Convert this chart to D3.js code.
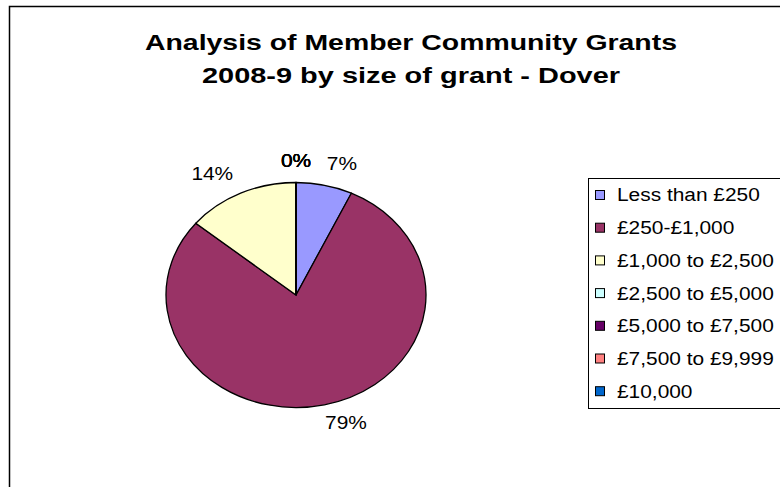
<!DOCTYPE html>
<html><head><meta charset="utf-8">
<script src="https://cdn.jsdelivr.net/npm/d3@7/dist/d3.min.js"></script>
<style>body{margin:0;background:#fff}svg{display:block}text{font-family:"Liberation Sans",Arial,sans-serif}</style>
</head><body><svg id="c" width="780" height="487"></svg>
<script>
const categories = ["Less than £250","£250-£1,000","£1,000 to £2,500","£2,500 to £5,000","£5,000 to £7,500","£7,500 to £9,999","£10,000"];
const values = [7,79,14,0,0,0,0];
const colors = ["#9999FF","#993366","#FFFFCC","#CCFFFF","#660066","#FF8080","#0066CC"];
const titleLines = ["Analysis of Member Community Grants","2008-9 by size of grant - Dover"];

const stretch = 1.16;
function widen(sel){ sel.each(function(){ const w=this.getComputedTextLength(); this.setAttribute("textLength", w*stretch); this.setAttribute("lengthAdjust","spacingAndGlyphs"); }); }

const svg = d3.select("#c");
// frame
svg.append("path").attr("d","M9.5,487 V6.5 H780").attr("fill","none").attr("stroke","#000").attr("stroke-width",1.5);

// title
svg.append("g").selectAll("text").data(titleLines).join("text")
  .attr("x",411).attr("y",(d,i)=>50+i*33).attr("text-anchor","middle")
  .attr("font-size",22).attr("font-weight","bold")
  .attr("textLength",(d,i)=>i===0?532:418).attr("lengthAdjust","spacingAndGlyphs")
  .text(d=>d);

// pie
const cx=296, cy=295, rx=130, ry=112.5;
const pie = d3.pie().sort(null).value(d=>d)(values);
const arc = d3.arc().innerRadius(0).outerRadius(rx);
const g = svg.append("g").attr("transform",`translate(${cx},${cy}) scale(1,${ry/rx})`);
g.selectAll("path").data(pie).join("path")
  .attr("d",arc).attr("fill",(d,i)=>colors[i])
  .attr("stroke","#000").attr("stroke-width",1.3).attr("vector-effect","non-scaling-stroke");

// labels
const lab = svg.append("g").attr("transform",`translate(${cx},${cy})`);
const lt = lab.selectAll("text").data(pie).join("text")
  .attr("text-anchor","middle").attr("font-size",18).attr("fill","#000")
  .text(d=>Math.round(d.data)+"%");
widen(lt);
lt.each(function(d){
  const a=(d.startAngle+d.endAngle)/2, s=Math.sin(a), c=Math.cos(a);
  const w=this.getComputedTextLength()*stretch;
  const sg = Math.abs(s)<1e-6?0:Math.sign(s);
  d3.select(this).attr("x", s*rx*1.25 + sg*0.3*w)
    .attr("y", -c*ry*1.178 + 4.6);
});

// legend
svg.append("rect").attr("x",588.5).attr("y",178.5).attr("width",200).attr("height",230)
  .attr("fill","#fff").attr("stroke","#000").attr("stroke-width",1);
const lg = svg.append("g").selectAll("g").data(categories).join("g")
  .attr("transform",(d,i)=>`translate(0,${195+i*32.7})`);
lg.append("rect").attr("x",595.5).attr("y",-4.5).attr("width",9).attr("height",9)
  .attr("fill",(d,i)=>colors[i]).attr("stroke","#000").attr("stroke-width",1);
const ltx = lg.append("text").attr("x",617).attr("y",0).attr("dy","0.36em").attr("font-size",18)
  .text(d=>d);
widen(ltx);
</script></body></html>
